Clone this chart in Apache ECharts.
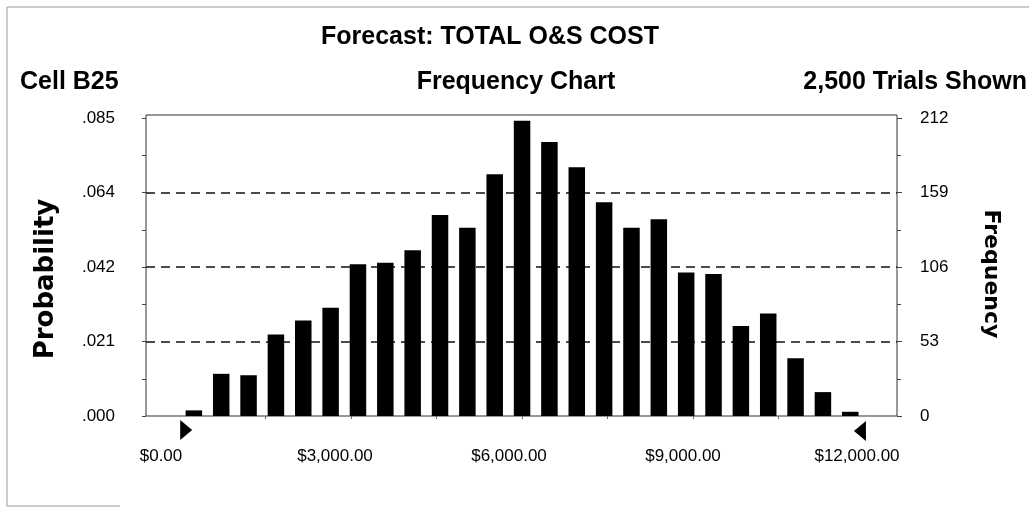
<!DOCTYPE html>
<html>
<head>
<meta charset="utf-8">
<title>Forecast: TOTAL O&S COST</title>
<script src="https://cdn.jsdelivr.net/npm/echarts@6/dist/echarts.min.js"></script>
<style>
  html, body { margin: 0; padding: 0; background: #fff; }
  #chart { width: 1029px; height: 508px; }
</style>
</head>
<body>
<div id="chart"></div>
<script>
// 25 bins of $480 from $0 to $12,000, trial count per bin
const binWidth = 480
const binCounts = [4, 30, 29, 58, 68, 77, 108, 109, 118, 143, 134, 172, 210, 195, 177, 152, 134, 140, 102, 101, 64, 73, 41, 17, 3]

const freqTicks = [0, 53, 106, 159, 212]
const probTicks = ['.000', '.021', '.042', '.064', '.085']
const costTicks = [0, 3000, 6000, 9000, 12000]
const costMinorTicks = [1500, 3000, 4500, 6000, 7500, 9000, 10500]
const grabbers = [0, 12000]

const tickFont = 'Liberation Sans, Arial, sans-serif'
const headFont = 'bold 25px "Liberation Sans", Arial, sans-serif'

const chart = echarts.init(document.getElementById('chart'))

const barData = binCounts.map((c, i) => [binWidth * (i + 0.5), c])

function money(v) {
  return '$' + v.toLocaleString('en-US', { minimumFractionDigits: 2, maximumFractionDigits: 2 })
}

chart.setOption({
  animation: false,
  backgroundColor: '#fff',
  grid: [
    // bars + y axes
    { left: 146, right: 132, top: 118, bottom: 92 },
    // plot frame
    { left: 146, right: 132, top: 115, bottom: 92, show: true, borderColor: '#333', borderWidth: 1 },
    // cost labels
    { left: 161, right: 172, top: 115, bottom: 92 }
  ],
  xAxis: [
    {
      gridIndex: 0, type: 'value', min: -600, max: 12580,
      axisLine: { show: false, onZero: false },
      axisTick: { show: true, customValues: costMinorTicks, length: 3, lineStyle: { color: '#666' } },
      axisLabel: { show: false },
      splitLine: { show: false }
    },
    { gridIndex: 1, type: 'value', show: false, min: 0, max: 1 },
    {
      gridIndex: 2, type: 'value', min: 0, max: 12000, interval: 3000,
      axisLine: { show: false, onZero: false },
      axisTick: { show: false },
      splitLine: { show: false },
      axisLabel: {
        margin: 32, color: '#000', fontFamily: tickFont, fontSize: 17,
        customValues: costTicks,
        formatter: v => money(v)
      }
    }
  ],
  yAxis: [
    {
      gridIndex: 0, type: 'value', min: 0, max: 212, interval: 53, position: 'left',
      axisLine: { show: false, onZero: false },
      axisTick: { show: true, length: 4, lineStyle: { color: '#444' } },
      minorTick: { show: true, splitNumber: 2, length: 4, lineStyle: { color: '#444' } },
      axisLabel: {
        margin: 31, color: '#000', fontFamily: tickFont, fontSize: 17,
        formatter: v => probTicks[freqTicks.indexOf(v)]
      },
      splitLine: {
        show: true, showMinLine: false, showMaxLine: false,
        lineStyle: { color: '#111', width: 1.5, type: [9, 6] }
      }
    },
    {
      gridIndex: 0, type: 'value', min: 0, max: 212, interval: 53, position: 'right',
      axisLine: { show: false, onZero: false },
      axisTick: { show: true, length: 5, lineStyle: { color: '#444' } },
      minorTick: { show: true, splitNumber: 2, length: 4, lineStyle: { color: '#444' } },
      axisLabel: { margin: 23, color: '#000', fontFamily: tickFont, fontSize: 17 },
      splitLine: { show: false }
    },
    { gridIndex: 1, type: 'value', show: false, min: 0, max: 1 },
    { gridIndex: 2, type: 'value', show: false, min: 0, max: 1 }
  ],
  series: [
    {
      type: 'bar',
      xAxisIndex: 0, yAxisIndex: 0,
      data: barData,
      barWidth: 16.5,
      itemStyle: { color: '#000' },
      silent: true
    },
    {
      // certainty grabbers at the ends of the range
      type: 'scatter',
      xAxisIndex: 0, yAxisIndex: 0,
      clip: false,
      silent: true,
      symbolSize: [12, 20],
      itemStyle: { color: '#000', opacity: 1 },
      data: [
        { value: [grabbers[0], 0], symbol: 'path://M0,0L12,10L0,20Z', symbolOffset: [6, 14] },
        { value: [grabbers[1], 0], symbol: 'path://M12,0L0,10L12,20Z', symbolOffset: [-4, 15] }
      ]
    }
  ],
  graphic: [
    { type: 'text', x: 490, y: 37, style: { text: 'Forecast: TOTAL O&S COST', font: headFont, fill: '#000', textAlign: 'center', textVerticalAlign: 'middle' } },
    { type: 'text', x: 20, y: 82, style: { text: 'Cell B25', font: headFont, fill: '#000', textAlign: 'left', textVerticalAlign: 'middle' } },
    { type: 'text', x: 516, y: 82, style: { text: 'Frequency Chart', font: headFont, fill: '#000', textAlign: 'center', textVerticalAlign: 'middle' } },
    { type: 'text', x: 1027, y: 82, style: { text: '2,500 Trials Shown', font: headFont, fill: '#000', textAlign: 'right', textVerticalAlign: 'middle' } },
    { type: 'text', x: 46, y: 279, rotation: Math.PI / 2, style: { text: 'Probability', font: 'bold 26px "DejaVu Sans", sans-serif', fill: '#000', textAlign: 'center', textVerticalAlign: 'middle' } },
    { type: 'text', x: 991, y: 274, rotation: -Math.PI / 2, style: { text: 'Frequency', font: 'bold 22px "DejaVu Sans", sans-serif', fill: '#000', textAlign: 'center', textVerticalAlign: 'middle' } },
    // scanned page edge
    { type: 'line', shape: { x1: 7, y1: 7, x2: 1029, y2: 7 }, style: { stroke: '#999', lineWidth: 1 } },
    { type: 'line', shape: { x1: 7, y1: 7, x2: 7, y2: 506 }, style: { stroke: '#999', lineWidth: 1 } },
    { type: 'line', shape: { x1: 7, y1: 506, x2: 120, y2: 506 }, style: { stroke: '#999', lineWidth: 1 } }
  ]
})
</script>
</body>
</html>
